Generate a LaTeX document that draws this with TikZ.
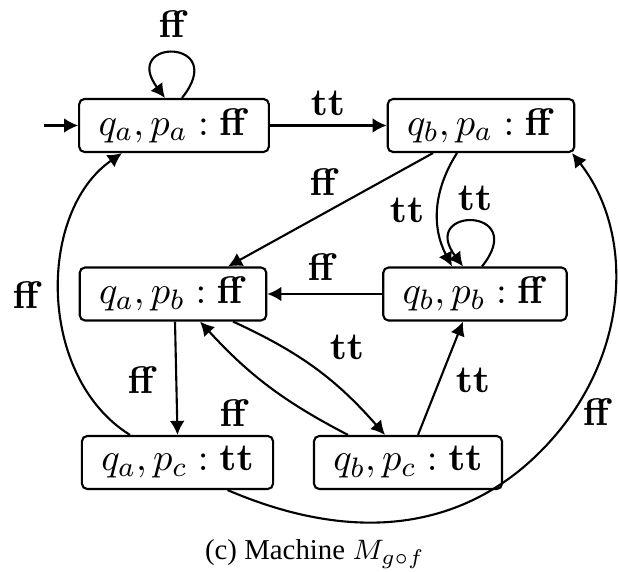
\documentclass[tikz,border=0pt]{standalone}
\usepackage[no-math]{fontspec}
\usetikzlibrary{arrows.meta}
\newfontfamily\piefont{Liberation Serif}

\begin{document}
\begin{tikzpicture}[
    >={Latex[length=4pt,width=4.2pt]},
    every path/.style={line width=0.6pt},
    estado/.style={draw, rounded corners=1.5pt, inner xsep=5.5pt, inner ysep=1.5pt, minimum height=0.53cm,
                   font=\fontsize{11.3}{13}\selectfont},
    etiq/.style={font=\fontsize{11.3}{13}\selectfont}
  ]
    \useasboundingbox (0,0) rectangle (6.18,5.72);

    % Estados de la maquina producto
    \node[estado] (qapa) at (1.74,4.465) {$q_a, p_a : \mathbf{ff}$};
    \node[estado] (qbpa) at (4.81,4.465) {$q_b, p_a : \mathbf{ff}$};
    \node[estado] (qapb) at (1.73,2.78) {$q_a, p_b : \mathbf{ff}$};
    \node[estado] (qbpb) at (4.75,2.78) {$q_b, p_b : \mathbf{ff}$};
    \node[estado] (qapc) at (1.775,1.095) {$q_a, p_c : \mathbf{tt}$};
    \node[estado] (qbpc) at (4.08,1.095) {$q_b, p_c : \mathbf{tt}$};

    % Estado inicial
    \coordinate (inicio) at (0.44,4.465);
    \draw[->] (inicio) -- (qapa);

    % Bucles
    \draw[->] ([xshift=0.08cm]qapa.north) .. controls +(0.48,0.6) and +(-0.45,0.6) .. ([xshift=-0.09cm]qapa.north);
    \draw[->] ([xshift=0.07cm]qbpb.north) .. controls +(0.48,0.6) and +(-0.45,0.6) .. ([xshift=-0.12cm]qbpb.north);

    % Transiciones
    \draw[->] (qapa) -- (qbpa);
    \draw[->] ([xshift=-0.48cm]qbpa.south) -- ([xshift=0.55cm]qapb.north);
    \draw[->] ([xshift=-0.24cm]qbpa.south) to[bend right=30] ([xshift=-0.23cm]qbpb.north);
    \draw[->] (qbpb) -- (qapb);
    \draw[->] ([xshift=0.02cm]qapb.south) -- (qapc.north);
    \draw[->] ([xshift=0.6cm]qapb.south) to[bend left=12] ([xshift=-0.23cm]qbpc.north);
    \draw[->] ([xshift=-0.6cm]qbpc.north) to[bend left=10] ([xshift=0.27cm]qapb.south);
    \draw[->] ([xshift=0.1cm]qbpc.north) -- ([xshift=-0.12cm]qbpb.south);
    \draw[->] ([xshift=-0.475cm]qapc.north) .. controls (0.37,1.95) and (0.37,3.6) .. ([xshift=-0.52cm]qapa.south);
    \coordinate (giro) at (5.40,1.20);
    \draw[->] ([xshift=0.5cm]qapc.south) .. controls (3.65,0.23) and (4.69,0.49) .. (giro)
              .. controls (6.32,2.12) and (6.35,3.39) .. ([xshift=0.91cm]qbpa.south);

    % Etiquetas
    \node[etiq] (l1) at (1.74,5.48) {$\mathbf{ff}$};
    \node[etiq] (l2) at (3.28,4.69) {$\mathbf{tt}$};
    \node[etiq] (l3) at (3.25,3.90) {$\mathbf{ff}$};
    \node[etiq] (l4) at (4.07,3.62) {$\mathbf{tt}$};
    \node[etiq] (l5) at (4.75,3.74) {$\mathbf{tt}$};
    \node[etiq] (l6) at (3.23,3.05) {$\mathbf{ff}$};
    \node[etiq] (l7) at (3.47,2.25) {$\mathbf{tt}$};
    \node[etiq] (l8) at (1.43,1.92) {$\mathbf{ff}$};
    \node[etiq] (l9) at (2.35,1.59) {$\mathbf{ff}$};
    \node[etiq] (l10) at (4.73,1.92) {$\mathbf{tt}$};
    \node[etiq] (l11) at (0.28,2.77) {$\mathbf{ff}$};
    \node[etiq] (l12) at (5.98,1.60) {$\mathbf{ff}$};

    % Pie
    \node[font=\piefont\fontsize{8.2}{10}\selectfont] (pie) at (3.15,0.18) {(c) Machine $M_{g\circ f}$};
\end{tikzpicture}
\end{document}
